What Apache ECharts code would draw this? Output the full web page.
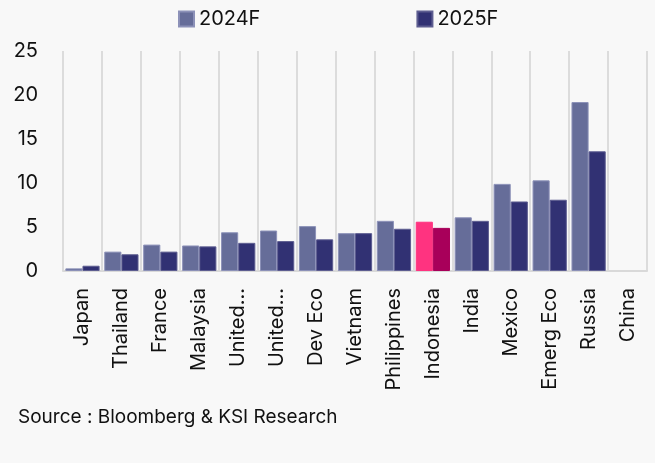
<!DOCTYPE html>
<html>
<head>
<meta charset="utf-8">
<script src="https://cdn.jsdelivr.net/npm/echarts@6/dist/echarts.min.js"></script>
<style>
  html, body { margin: 0; padding: 0; background: #f8f8f8; }
  #chart { width: 655px; height: 463px; }
</style>
</head>
<body>
<div id="chart"></div>
<script>
// Growth forecasts by economy
const categories = ['Japan', 'Thailand', 'France', 'Malaysia', 'United...', 'United...', 'Dev Eco',
  'Vietnam', 'Philippines', 'Indonesia', 'India', 'Mexico', 'Emerg Eco', 'Russia', 'China'];
const values2024 = [0.3, 2.2, 3.0, 2.9, 4.4, 4.6, 5.1, 4.3, 5.7, 5.6, 6.1, 9.9, 10.3, 19.2, null];
const values2025 = [0.6, 1.9, 2.2, 2.8, 3.2, 3.4, 3.6, 4.3, 4.8, 4.9, 5.7, 7.9, 8.1, 13.6, null];
const yTicks = [0, 5, 10, 15, 20, 25];
const highlight = 'Indonesia';

const FONT = 'Inter';
const col2024 = '#666d99', col2025 = '#313173';

function bars(vals, hl) {
  return vals.map((v, i) => categories[i] === highlight
    ? { value: v, itemStyle: { color: hl, borderColor: hl } }
    : v);
}

const chart = echarts.init(document.getElementById('chart'));
chart.setOption({
  backgroundColor: '#f8f8f8',
  animation: false,
  textStyle: { fontFamily: FONT },
  legend: {
    left: 173, top: 4,
    icon: 'rect',
    itemWidth: 15, itemHeight: 15, itemGap: 156,
    textStyle: { fontFamily: FONT, fontSize: 20, color: '#111' },
    data: ['2024F', '2025F']
  },
  grid: { left: 63, right: 8, top: 51, bottom: 192 },
  xAxis: {
    type: 'category',
    data: categories,
    axisLine: { lineStyle: { color: '#d9d9d9', width: 2 } },
    axisTick: { show: false },
    splitLine: { show: true, lineStyle: { color: '#dcdcdc', width: 2 } },
    axisLabel: { rotate: 90, interval: 0, margin: 17, fontFamily: FONT, fontSize: 20, color: '#111' }
  },
  yAxis: {
    type: 'value',
    min: yTicks[0], max: yTicks[yTicks.length - 1], interval: 5,
    splitLine: { show: false },
    axisLine: { show: false },
    axisTick: { show: false },
    axisLabel: { margin: 25, fontFamily: FONT, fontSize: 20, color: '#111' }
  },
  series: [
    {
      name: '2024F', type: 'bar', data: bars(values2024, '#ff3380'),
      barGap: '0%', barCategoryGap: '12%',
      itemStyle: { color: col2024, borderColor: '#8c91b8', borderWidth: 1 }
    },
    {
      name: '2025F', type: 'bar', data: bars(values2025, '#a8005a'),
      itemStyle: { color: col2025, borderColor: '#5d5d90', borderWidth: 1 }
    }
  ],
  graphic: [{
    type: 'text', left: 18, top: 408,
    style: { text: 'Source : Bloomberg & KSI Research', fontFamily: FONT, fontSize: 19, fill: '#111' }
  }]
});
</script>
</body>
</html>
